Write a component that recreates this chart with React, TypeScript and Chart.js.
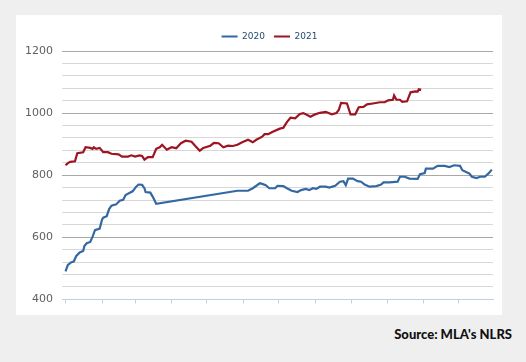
import React, { useEffect, useRef } from "react";
import { Chart, registerables } from "chart.js";

Chart.register(...registerables);

// x = day of year, y = price (c/kg)
const days2020 = [0, 2, 5, 7, 9, 12, 15, 16, 18, 21, 23, 25, 29, 31, 32, 35, 37, 39, 43, 46, 49, 51, 55, 57, 60, 62, 65, 67, 68, 72, 74, 77, 146, 155, 159, 165, 167, 170, 173, 178, 180, 185, 188, 192, 197, 200, 204, 207, 210, 213, 216, 221, 224, 229, 233, 236, 238, 240, 244, 248, 251, 254, 258, 264, 268, 270, 275, 282, 284, 288, 292, 299, 301, 305, 306, 312, 316, 322, 326, 330, 335, 337, 341, 343, 345, 349, 352, 356, 359, 362];
const values2020 = [490, 511, 520, 522, 539, 551, 556, 572, 581, 585, 602, 623, 628, 657, 663, 668, 691, 702, 706, 718, 721, 736, 744, 748, 763, 770, 769, 758, 746, 744, 731, 708, 750, 750, 758, 774, 772, 768, 758, 758, 766, 765, 758, 750, 746, 752, 756, 752, 758, 756, 763, 763, 760, 766, 779, 781, 768, 789, 789, 781, 779, 770, 763, 765, 770, 777, 777, 779, 795, 795, 789, 788, 803, 807, 821, 821, 830, 830, 826, 832, 830, 816, 809, 805, 795, 791, 795, 795, 805, 818];

const days2021 = [0, 2, 4, 8, 10, 15, 17, 21, 23, 24, 26, 29, 32, 36, 39, 45, 48, 53, 56, 59, 63, 65, 67, 70, 74, 77, 80, 82, 86, 90, 94, 98, 102, 107, 110, 114, 117, 123, 126, 130, 134, 138, 142, 146, 150, 155, 159, 162, 167, 169, 172, 176, 182, 185, 188, 191, 195, 199, 202, 208, 212, 216, 221, 226, 230, 232, 234, 239, 242, 246, 249, 253, 256, 261, 267, 271, 274, 278, 279, 281, 284, 286, 290, 293, 297, 299, 300, 302];
const values2021 = [832, 839, 843, 845, 871, 874, 890, 888, 885, 890, 885, 888, 874, 874, 869, 867, 860, 860, 864, 860, 864, 862, 850, 858, 858, 885, 890, 898, 882, 890, 887, 903, 911, 908, 895, 879, 888, 895, 904, 903, 890, 895, 894, 898, 906, 914, 906, 914, 924, 932, 932, 940, 950, 953, 971, 985, 983, 997, 1000, 988, 996, 1001, 1004, 996, 1000, 1010, 1033, 1031, 996, 996, 1019, 1020, 1028, 1031, 1035, 1035, 1041, 1043, 1057, 1043, 1043, 1036, 1038, 1067, 1070, 1069, 1077, 1075];

const monthStartDays = [0, 31, 59, 90, 120, 151, 181, 212, 243, 273, 304, 334];
const seriesNames = ["2020", "2021"];
const sourceText = "Source: MLA's NLRS";

const legendShift = {
  id: "legendShift",
  afterLayout(chart: any) {
    const l = chart.legend;
    if (l) {
      l.left += 10.5;
      l.right += 10.5;
    }
  },
};

export default function App() {
  const canvasRef = useRef<HTMLCanvasElement | null>(null);

  useEffect(() => {
    document.body.style.margin = "0";
    document.body.style.background = "#efefef";
    const canvas = canvasRef.current;
    if (!canvas) return;
    const chart = new Chart(canvas, {
      type: "line",
      data: {
        datasets: [
          {
            label: seriesNames[0],
            data: days2020.map((d, i) => ({ x: d, y: values2020[i] })),
            borderColor: "#3468a2",
            backgroundColor: "#3468a2",
            borderWidth: 2.2,
            pointRadius: 0,
            tension: 0,
          },
          {
            label: seriesNames[1],
            data: days2021.map((d, i) => ({ x: d, y: values2021[i] })),
            borderColor: "#9e1420",
            backgroundColor: "#9e1420",
            borderWidth: 2.2,
            pointRadius: 0,
            tension: 0,
          },
        ],
      },
      plugins: [legendShift],
      options: {
        responsive: false,
        animation: false,
        devicePixelRatio: 1,
        layout: { padding: { top: 8, left: 9, right: 9, bottom: 6 } },
        plugins: {
          tooltip: { enabled: false },
          legend: {
            position: "top",
            labels: {
              usePointStyle: true,
              pointStyle: "line",
              pointStyleWidth: 16,
              padding: 9,
              color: "#274b6d",
              font: { family: "DejaVu Sans", size: 9 },
            },
          },
        },
        scales: {
          x: {
            type: "linear",
            min: -3,
            max: 363,
            afterBuildTicks: (scale: any) => {
              scale.ticks = monthStartDays.map((v) => ({ value: v }));
            },
            ticks: { display: false },
            grid: {
              drawOnChartArea: false,
              drawTicks: true,
              tickLength: 4,
              color: "#c0d0e0",
            },
            border: { display: true, color: "#c0d0e0", width: 1 },
          },
          y: {
            min: 400,
            max: 1200,
            afterFit: (scale: any) => {
              scale.width = 37;
            },
            ticks: {
              stepSize: 40,
              autoSkip: false,
              padding: 9,
              color: "#606060",
              font: { family: "DejaVu Sans", size: 11 },
              callback: (v: any) => (Number(v) % 200 === 0 ? String(v) : ""),
            },
            grid: {
              drawTicks: false,
              lineWidth: 1,
              color: (ctx: any) => {
                const v = ctx.tick ? ctx.tick.value : 0;
                if (v === 400) return "rgba(0,0,0,0)";
                return v % 200 === 0 ? "#a8a8a8" : "#d8d8d8";
              },
            },
            border: { display: false },
          },
        },
      },
    });
    return () => chart.destroy();
  }, []);

  return (
    <div style={{ position: "absolute", left: 0, top: 0, width: 526, height: 362, background: "#efefef" }}>
      <div style={{ position: "absolute", left: 16, top: 15, width: 486, height: 300, background: "#ffffff" }}>
        <canvas ref={canvasRef} width={486} height={300} style={{ width: 486, height: 300, display: "block" }} />
      </div>
      <div
        style={{
          position: "absolute",
          right: 14,
          top: 326,
          fontFamily: "Lato, 'DejaVu Sans', sans-serif",
          fontWeight: 900,
          fontSize: 13,
          lineHeight: "16px",
          color: "#111",
          whiteSpace: "nowrap",
        }}
      >
        {sourceText}
      </div>
    </div>
  );
}
